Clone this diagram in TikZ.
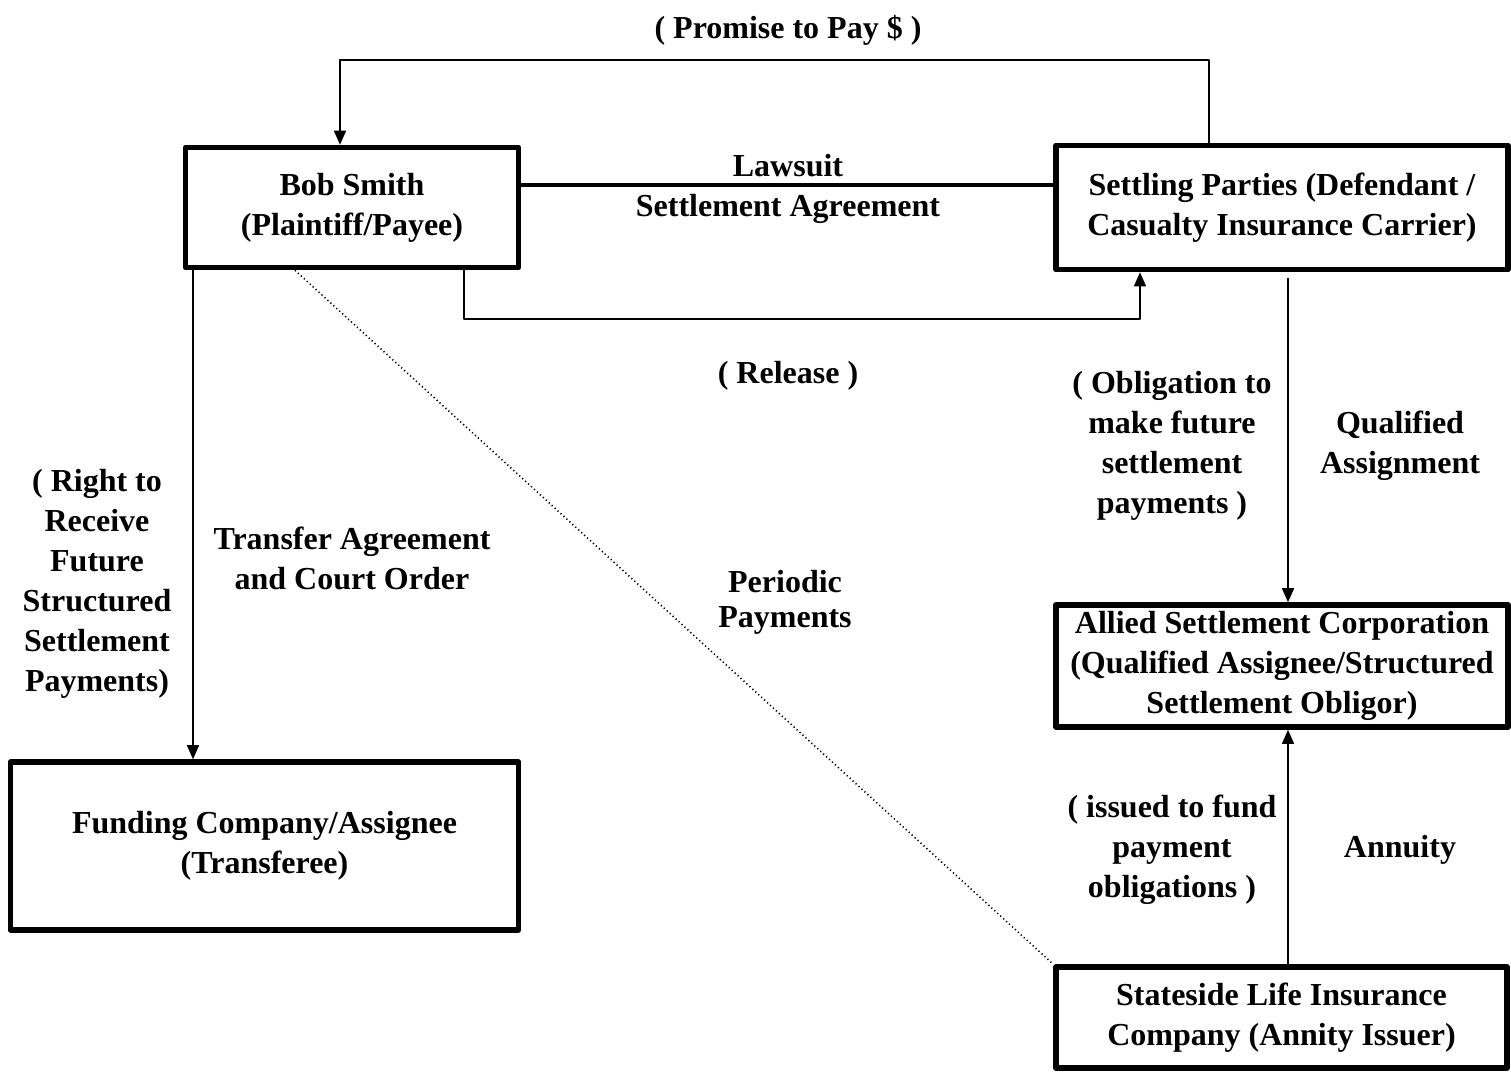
\documentclass[tikz,border=0pt]{standalone}
\usepackage{fontspec}
\setmainfont{Liberation Serif}
\usepackage{tikz}
\usetikzlibrary{arrows.meta}

\begin{document}
\begin{tikzpicture}[x=0.5pt,y=-0.5pt,join=round, % Settlement Parties
         party/.style={draw,line width=2.8pt,align=center,inner sep=0pt,execute at begin node={\rule{0pt}{15pt}}},
         lbl/.style={align=center,inner sep=0pt},
         link/.style={line width=0.75pt},
         tip/.style={-{Triangle[length=7pt,width=6pt]}},
         every node/.style={font=\bfseries\fontsize{16}{20}\selectfont}]
         \useasboundingbox (0,0) rectangle (1511,1078);
         \node[party,minimum width=166.5pt,minimum height=60pt] (bob) at (352,207.5) {Bob Smith\\(Plaintiff/Payee)};
         \node[party,minimum width=226pt,minimum height=62pt] (settle) at (1282,207.5) {Settling Parties (Defendant /\\Casualty Insurance Carrier)};
         \node[party,minimum width=226pt,minimum height=61pt] (allied) at (1282,666) {Allied Settlement Corporation\\(Qualified Assignee/Structured\\Settlement Obligor)};
         \node[party,minimum width=225.5pt,minimum height=50.5pt] (life) at (1281.5,1017.5) {Stateside Life Insurance\\Company (Annity Issuer)};
         \node[party,minimum width=254pt,minimum height=84pt] (fund) at (264.5,846) {Funding Company/Assignee\\(Transferee)};
         \coordinate (payR) at (1209,60);
         \coordinate (payL) at (340,60);
         \coordinate (relL) at (464,319);
         \coordinate (relR) at (1140,319);
         \coordinate (tr) at (193,0);
         \coordinate (dt) at (295,0);
         \coordinate (qa) at (1288,0);
         \draw[link,tip] (settle.north -| payR)--(payR)--(payL)--(bob.north -| payL);
         \draw[line width=2pt] (bob.east |- 0,185)--(settle.west |- 0,185);
         \draw[link,tip] (bob.south -| relL)--(relL)--(relR)--(settle.south -| relR);
         \draw[link,tip] (bob.south -| tr)--(fund.north -| tr);
         \draw[link,dash pattern=on 0.6pt off 1.4pt] (bob.south -| dt)--(life.north west);
         \draw[link,tip] ([yshift=-3pt]settle.south -| qa)--(allied.north -| qa);
         \draw[link,tip] (life.north -| qa)--(allied.south -| qa);
         \node[lbl] (promise) at (788,30) {( Promise to Pay \$ )};
         \node[lbl] (lawsuit) at (788,189) {Lawsuit\\Settlement Agreement};
         \node[lbl] (release) at (788,376) {( Release )};
         \node[lbl] (right) at (97,584) {( Right to\\Receive\\Future\\Structured\\Settlement\\Payments)};
         \node[lbl] (transfer) at (352,558) {Transfer Agreement\\and Court Order};
         \node[lbl,font=\bfseries\fontsize{16}{17.5}\selectfont] (periodic) at (785,602) {Periodic\\Payments};
         \node[lbl] (oblig) at (1172,446) {( Obligation to\\make future\\settlement\\payments )};
         \node[lbl] (qualified) at (1400,446) {Qualified\\Assignment};
         \node[lbl] (issued) at (1172,850) {( issued to fund\\payment\\obligations )};
         \node[lbl] (annuity) at (1400,850) {Annuity};
      \end{tikzpicture}
\end{document}
